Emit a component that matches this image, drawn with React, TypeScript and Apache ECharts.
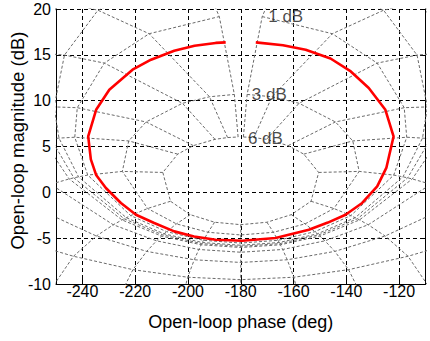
import React, { useEffect, useRef } from 'react';
import * as echarts from 'echarts';

// Open-loop frequency response (phase in deg, magnitude in dB)
const loopPhase = [-185.7, -189.5, -197.5, -205.2, -214.0, -221.0, -229.8, -234.8, -237.8, -236.8, -234.8, -231.1, -225.4, -219.7, -212.8, -205.2, -197.7, -189.5, -179.4, -166.8, -154.2, -147.0, -140.3, -134.0, -128.3, -124.8, -122.1, -125.2, -131.5, -138.3, -146.0, -155.4, -164.0, -174.3];
const loopMag = [16.36, 16.3, 16.0, 15.45, 14.47, 13.38, 11.2, 9.0, 6.1, 3.6, 1.9, 0.47, -1.16, -2.44, -3.34, -4.26, -4.81, -5.17, -5.28, -4.98, -4.08, -3.3, -2.44, -1.16, 0.65, 2.7, 6.1, 9.0, 11.38, 13.19, 14.6, 15.56, 16.05, 16.36];

// Nichols grid: closed-loop magnitudes (dB) and closed-loop phases (deg)
const gridMagsDb = [6, 3, 1, 0.5, 0.25, 0, -1, -3, -6, -12, -20, -40, -60, -80, -100, -120];
const gridPhasesDeg = [-1, -5, -10, -20, -30, -50, -90, -120, -150, -180, -210, -240, -270, -310, -330, -340, -350, -355, -359];

// Contour labels
const contourLabels = ['6 dB', '3 dB', '1 dB'];
const contourLabelPhase = [-177.3, -175.8, -169.6];
const contourLabelMag = [5.9, 10.7, 19.2];

// Axes
const phaseMin = -250;
const phaseMax = -110;
const magMin = -10;
const magMax = 20;
const magStep = 5;

const FONT = '"Liberation Sans", Arial, Helvetica, sans-serif';

// Open-loop point (phase, dB) for a closed-loop magnitude (dB) and phase (deg)
function openLoopPoint(mDb: number, psiDeg: number): [number, number] {
  const M = Math.pow(10, mDb / 20);
  const psi = (psiDeg * Math.PI) / 180;
  const tr = M * Math.cos(psi);
  const ti = M * Math.sin(psi);
  const dr = 1 - tr;
  const di = -ti;
  const mag = M / Math.hypot(dr, di);
  const phase = psiDeg - (Math.atan2(di, dr) * 180) / Math.PI;
  return [phase, 20 * Math.log10(mag)];
}

export default function App() {
  const ref = useRef<HTMLDivElement>(null);

  useEffect(() => {
    if (!ref.current) return;
    const chart = echarts.init(ref.current, undefined, { renderer: 'svg' });

    const gridStyle = { color: '#6a6a6a', width: 1, type: [3, 2] as number[] };
    const series: any[] = [];

    gridMagsDb.forEach((m) => {
      series.push({
        type: 'line',
        data: gridPhasesDeg.map((p) => openLoopPoint(m, p)),
        showSymbol: false,
        symbol: 'none',
        silent: true,
        clip: true,
        z: 2,
        lineStyle: gridStyle,
      });
    });
    gridPhasesDeg.forEach((p) => {
      series.push({
        type: 'line',
        data: gridMagsDb.map((m) => openLoopPoint(m, p)),
        showSymbol: false,
        symbol: 'none',
        silent: true,
        clip: true,
        z: 2,
        lineStyle: gridStyle,
      });
    });

    series.push({
      type: 'line',
      data: loopPhase.map((p, i) => [p, loopMag[i]]),
      showSymbol: false,
      symbol: 'none',
      clip: true,
      z: 5,
      lineStyle: { color: '#ff0000', width: 2.6 },
    });

    series.push({
      type: 'scatter',
      data: contourLabels.map((t, i) => [contourLabelPhase[i], contourLabelMag[i], t]),
      symbolSize: 0,
      silent: true,
      z: 6,
      label: {
        show: true,
        position: 'right',
        distance: 0,
        formatter: (p: any) => p.data[2],
        color: '#1a1a1a',
        fontSize: 17,
        fontFamily: FONT,
      },
    });

    chart.setOption({
      animation: false,
      backgroundColor: '#ffffff',
      grid: { left: 56, right: 4.5, top: 9, bottom: 57, containLabel: false, outerBoundsMode: 'none' },
      xAxis: {
        type: 'value',
        min: phaseMin,
        max: phaseMax,
        splitNumber: 7,
        name: 'Open-loop phase (deg)',
        nameLocation: 'middle',
        nameGap: 29,
        nameMoveOverlap: false,
        nameTextStyle: { color: '#000', fontSize: 18, fontFamily: FONT },
        axisLine: { show: true, onZero: false, lineStyle: { color: '#000', width: 1 } },
        axisTick: { show: true, inside: true, length: 5, lineStyle: { color: '#000' } },
        axisLabel: { color: '#000', fontSize: 16, fontFamily: FONT, margin: -1, showMinLabel: false, showMaxLabel: false },
        splitLine: { show: true, lineStyle: { color: '#000', width: 1, type: [4, 3] } },
      },
      yAxis: [
        {
          type: 'value',
          min: magMin,
          max: magMax,
          interval: magStep,
          name: 'Open-loop magnitude (dB)',
          nameLocation: 'middle',
          nameGap: 29,
          nameRotate: 90,
          nameMoveOverlap: false,
          nameTextStyle: { color: '#000', fontSize: 18.5, fontFamily: FONT, padding: [0, 0, 0, 12] },
          axisLine: { show: true, onZero: false, lineStyle: { color: '#000', width: 1 } },
          axisTick: { show: true, inside: true, length: 5, lineStyle: { color: '#000' } },
          axisLabel: { color: '#000', fontSize: 16, fontFamily: FONT, margin: 5 },
          splitLine: { show: true, lineStyle: { color: '#000', width: 1, type: [4, 3] } },
        },
        {
          type: 'value',
          position: 'right',
          min: magMin,
          max: magMax,
          interval: magStep,
          axisLine: { show: true, onZero: false, lineStyle: { color: '#000', width: 1 } },
          axisTick: { show: true, inside: true, length: 4, lineStyle: { color: '#000' } },
          axisLabel: { show: false },
          splitLine: { show: false },
        },
      ],
      series,
    });

    return () => chart.dispose();
  }, []);

  return (
    <div
      ref={ref}
      style={{ position: 'fixed', left: 0, top: 0, width: 430, height: 341, background: '#fff' }}
    />
  );
}
